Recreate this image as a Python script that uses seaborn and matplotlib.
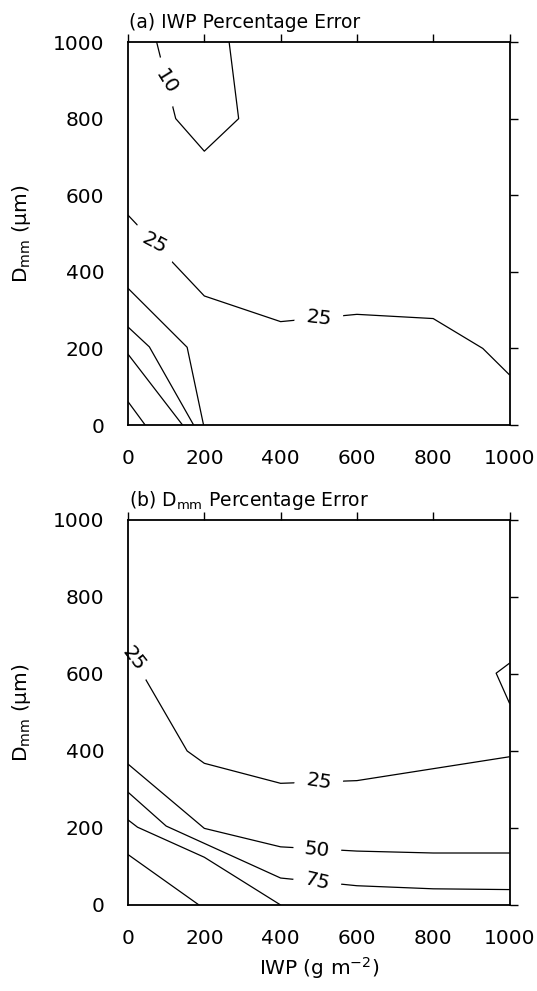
import matplotlib
matplotlib.use("Agg")
import numpy as np
import pandas as pd
import matplotlib.pyplot as plt
import seaborn as sns
from matplotlib.path import Path

# ---------------- data ----------------
ticks = [0, 200, 400, 600, 800, 1000]

# Panel (a): IWP percentage error contours
a10_x = [75, 125, 200, 290, 265]
a10_y = [1000, 800, 715, 800, 1000]
a25_x = [0, 200, 400, 600, 800, 930, 1000]
a25_y = [548, 337, 270, 289, 278, 200, 131]
a50_x = [0, 155, 198]
a50_y = [357, 203, 0]
a75_x = [0, 56, 172]
a75_y = [256, 204, 0]
a100_x = [0, 143]
a100_y = [185, 0]
a150_x = [0, 45]
a150_y = [61, 0]

# Panel (b): Dmm percentage error contours
b25_x = [0, 155, 200, 400, 600, 1000]
b25_y = [665, 400, 368, 316, 323, 385]
b25r_x = [1000, 965, 1000]
b25r_y = [628, 602, 524]
b50_x = [0, 200, 400, 600, 800, 1000]
b50_y = [366, 199, 151, 140, 135, 135]
b75_x = [0, 100, 400, 600, 800, 1000]
b75_y = [293, 205, 70, 50, 42, 40]
b100_x = [0, 25, 200, 400]
b100_y = [221, 202, 124, 0]
b150_x = [0, 186]
b150_y = [131, 0]

contours_a = [("a10", a10_x, a10_y), ("a25", a25_x, a25_y), ("a50", a50_x, a50_y),
              ("a75", a75_x, a75_y), ("a100", a100_x, a100_y), ("a150", a150_x, a150_y)]
contours_b = [("b25", b25_x, b25_y), ("b25r", b25r_x, b25r_y), ("b50", b50_x, b50_y),
              ("b75", b75_x, b75_y), ("b100", b100_x, b100_y), ("b150", b150_x, b150_y)]

# contour labels: (text, x, y, rotation)
labels_a = [("10", 100, 895, -58), ("25", 70, 474, -28), ("25", 500, 279, -7)]
labels_b = [("25", 15, 640, -52), ("25", 500, 320, -9), ("50", 496, 143, -6), ("75", 496, 60, -13)]


def to_df(contours):
    rows = []
    for cid, xs, ys in contours:
        for i, (x, y) in enumerate(zip(xs, ys)):
            rows.append({"cid": cid, "order": i, "x": x, "y": y})
    return pd.DataFrame(rows)


df_a = to_df(contours_a)
df_b = to_df(contours_b)

# ---------------- style ----------------
sns.set_style("white")
plt.rcParams["font.family"] = ["DejaVu Sans"]
plt.rcParams["mathtext.default"] = "regular"
plt.rcParams["text.color"] = "black"
plt.rcParams["axes.labelcolor"] = "black"
plt.rcParams["xtick.color"] = "black"
plt.rcParams["ytick.color"] = "black"

FS = 14.5


def wide_box(x0, y0, width, height, mutation_size):
    padx = mutation_size * 0.55
    pady = mutation_size * 0.05
    verts = [(x0 - padx, y0 - pady), (x0 + width + padx, y0 - pady),
             (x0 + width + padx, y0 + height + pady), (x0 - padx, y0 + height + pady),
             (x0 - padx, y0 - pady)]
    return Path(verts, closed=True)


fig = plt.figure(figsize=(5.37, 9.91), dpi=100)
ax_a = fig.add_axes([0.2384, 0.5711, 0.7104, 0.3865])
ax_b = fig.add_axes([0.2384, 0.0868, 0.7104, 0.3885])


def draw(ax, df, labels, title):
    sns.lineplot(data=df, x="x", y="y", units="cid", estimator=None, sort=False,
                 color="black", lw=0.9, ax=ax, legend=False)
    ax.set_xlim(0, 1000)
    ax.set_ylim(0, 1000)
    ax.set_xticks(ticks)
    ax.set_yticks(ticks)
    ax.set_xlabel("")
    ax.set_ylabel("D$_\\mathregular{mm}$ (\u00b5m)", fontsize=FS, color="black")
    ax.yaxis.set_label_coords(-0.25, 0.5)
    ax.tick_params(direction="out", length=6, width=1, top=True, right=True,
                   labeltop=False, labelright=False, pad=11, labelsize=FS, colors="black")
    for s in ax.spines.values():
        s.set_visible(True)
        s.set_color("black")
        s.set_linewidth(1.3)
        s.set_zorder(3)
    for txt, x, y, rot in labels:
        ax.text(x, y, txt, fontsize=FS, color="black", ha="center", va="center",
                rotation=rot, rotation_mode="anchor", zorder=2.6, clip_on=False,
                bbox=dict(boxstyle=wide_box, fc="white", ec="none"))
    ax.text(0.003, 1.037, title, transform=ax.transAxes, ha="left", va="baseline",
            fontsize=13.5, color="black")


draw(ax_a, df_a, labels_a, "(a) IWP Percentage Error")
draw(ax_b, df_b, labels_b, "(b) D$_\\mathregular{mm}$ Percentage Error")
ax_b.set_xlabel("IWP (g m$^\\mathregular{-2}$)", fontsize=FS, color="black")
ax_b.xaxis.set_label_coords(0.5, -0.13)

fig.savefig("out.png", dpi=100)
